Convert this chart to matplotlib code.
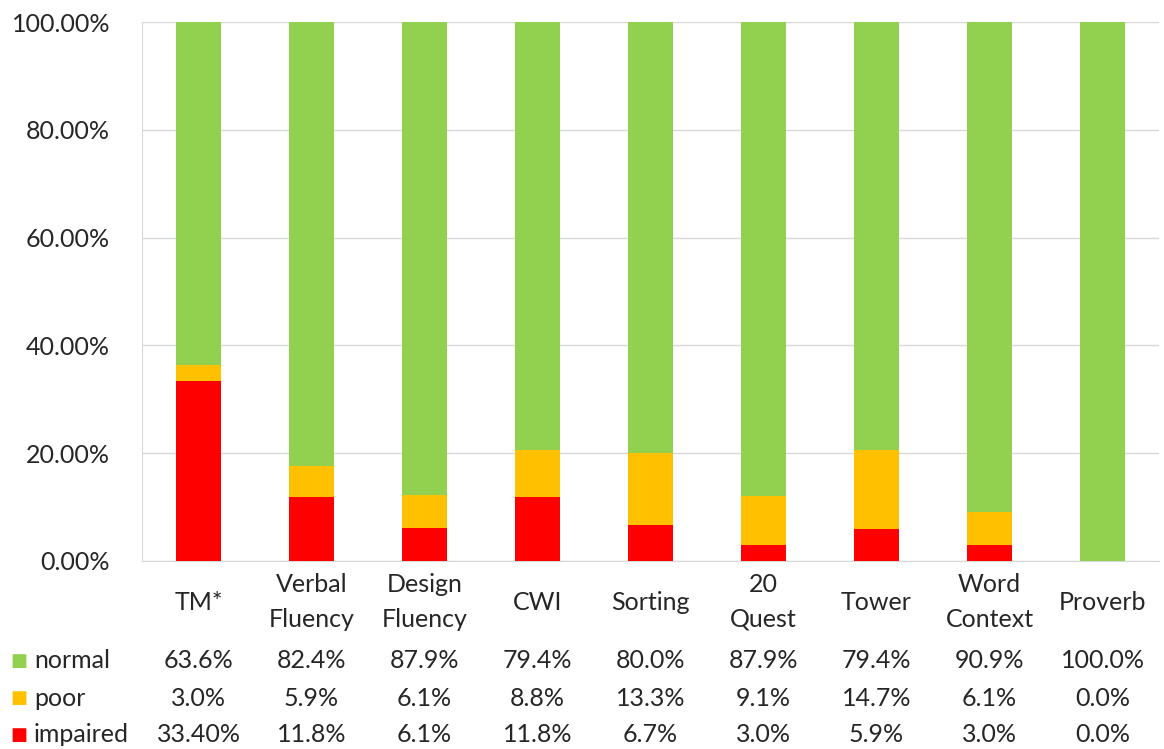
import matplotlib.pyplot as plt
import matplotlib.transforms as mtransforms
import numpy as np

plt.rcParams['font.family'] = ['Lato', 'DejaVu Sans']

# test categories and the share of each outcome (percent)
tests = ['TM*', 'Verbal\nFluency', 'Design\nFluency', 'CWI', 'Sorting',
         '20\nQuest', 'Tower', 'Word\nContext', 'Proverb']
normal = [63.6, 82.4, 87.9, 79.4, 80.0, 87.9, 79.4, 90.9, 100.0]
poor = [3.0, 5.9, 6.1, 8.8, 13.3, 9.1, 14.7, 6.1, 0.0]
impaired = [33.4, 11.8, 6.1, 11.8, 6.7, 3.0, 5.9, 3.0, 0.0]
impaired_labels = ['33.40%', '11.8%', '6.1%', '11.8%', '6.7%', '3.0%', '5.9%', '3.0%', '0.0%']

green = '#92D050'
orange = '#FFC000'
red = '#FF0000'
grid_c = '#D9D9D9'
txt_c = '#262626'
fs = 18

fig = plt.figure(figsize=(11.64, 7.49), dpi=100)
ax = fig.add_axes([142 / 1164, 1 - 561 / 749, 1017 / 1164, 539 / 749])

x = np.arange(len(tests))
w = 0.4
imp = np.array(impaired)
pr = np.array(poor)
ax.bar(x, imp, w, color=red, zorder=3)
ax.bar(x, pr, w, bottom=imp, color=orange, zorder=3)
ax.bar(x, normal, w, bottom=imp + pr, color=green, zorder=3)

ax.set_xlim(-0.5, len(tests) - 0.5)
ax.set_ylim(0, 100)
ax.set_yticks(np.arange(0, 101, 20))
ax.set_yticklabels(['%.2f%%' % v for v in np.arange(0, 101, 20)], fontsize=fs, color=txt_c)
ax.yaxis.grid(True, color=grid_c, lw=1, zorder=0)
ax.tick_params(axis='y', length=0, pad=23)
ax.set_xticks([])
for s in ['top', 'right']:
    ax.spines[s].set_visible(False)
ax.spines['left'].set_color(grid_c)
ax.spines['bottom'].set_color(grid_c)

# category names under the bars
trans = mtransforms.blended_transform_factory(ax.transData, fig.transFigure)
for i, t in enumerate(tests):
    ax.text(i, 1 - 602 / 749, t, transform=trans, ha='center', va='center',
            fontsize=fs, color=txt_c, linespacing=1.6)

# data table rows
rows = [('normal', green, ['%.1f%%' % v for v in normal]),
        ('poor', orange, ['%.1f%%' % v for v in poor]),
        ('impaired', red, impaired_labels)]
row_y = [661, 698, 735]
for (name, col, labels), yy in zip(rows, row_y):
    yf = 1 - yy / 749
    fig.text(10 / 1164, yf, '■', color=col, fontsize=13, ha='left', va='center',
             family=['DejaVu Sans'])
    fig.text(34 / 1164, yf, name, color=txt_c, fontsize=fs, ha='left', va='center')
    for i, lab in enumerate(labels):
        ax.text(i, yf, lab, transform=trans, ha='center', va='center',
                fontsize=fs, color=txt_c)

fig.savefig('out.png', dpi=100)
